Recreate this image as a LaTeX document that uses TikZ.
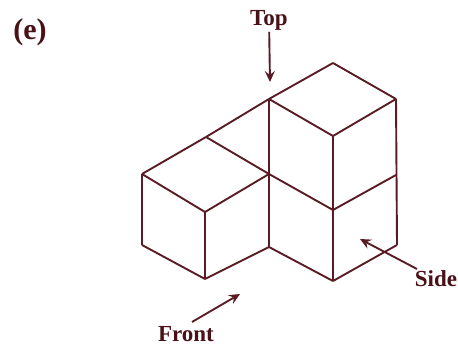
\documentclass[tikz,border=0pt]{standalone}
\usepackage{fontspec}
\setmainfont{Liberation Serif}
\usepackage{xcolor}
\usetikzlibrary{arrows.meta}
\definecolor{edgecol}{HTML}{5A1C24}
\definecolor{lblcol}{HTML}{4A1218}
\begin{document}
\begin{tikzpicture}[x=1pt, y=-1pt, >={Stealth[length=11pt,width=10pt,inset=4pt]}, line width=1.9pt, draw=edgecol,
    lbl/.style={text=lblcol, font=\bfseries\fontsize{23}{24}\selectfont, inner sep=1pt}]
  \useasboundingbox (0,0) rectangle (458,347);

  \coordinate (t0) at (333,63);
  \coordinate (t1) at (396,99);
  \coordinate (t2) at (269,99);
  \coordinate (t3) at (333,136);
  \coordinate (m0) at (206,137);
  \coordinate (m1) at (142,174);
  \coordinate (m2) at (269,174);
  \coordinate (m3) at (396,175);
  \coordinate (f0) at (205,212);
  \coordinate (f1) at (333,210);
  \coordinate (b0) at (142,245);
  \coordinate (b1) at (205,279);
  \coordinate (b2) at (269,247);
  \coordinate (b3) at (333,281);
  \coordinate (b4) at (397,245);

  \draw (t0) -- (t1);
  \draw (t0) -- (t2);
  \draw (t2) -- (t3);
  \draw (t3) -- (t1);
  \draw (t2) -- (b2);
  \draw (t3) -- (b3);
  \draw (t1) -- (b4);
  \draw (t2) -- (m0);
  \draw (m0) -- (m1);
  \draw (m0) -- (m2);
  \draw (m1) -- (f0);
  \draw (f0) -- (m2);
  \draw (m2) -- (f1);
  \draw (f1) -- (m3);
  \draw (m1) -- (b0);
  \draw (b0) -- (b1);
  \draw (f0) -- (b1);
  \draw (b1) -- (b2);
  \draw (b2) -- (b3);
  \draw (b3) -- (b4);

  \node[lbl] (elabel) at (30,32) {\fontsize{30}{30}\selectfont (e)};
  \node[lbl] (ltop) at (269,20) {Top};
  \node[lbl] (lside) at (436,279) {Side};
  \node[lbl] (lfront) at (186,334) {Front};

  \coordinate (atop) at (270,82);
  \coordinate (aside) at (360,239);
  \coordinate (afront) at (240,294);
  \coordinate (tfront) at (192,322);

  \draw[->] (ltop) -- (atop);
  \draw[->] (lside) -- (aside);
  \draw[->] (tfront) -- (afront);
\end{tikzpicture}
\end{document}
